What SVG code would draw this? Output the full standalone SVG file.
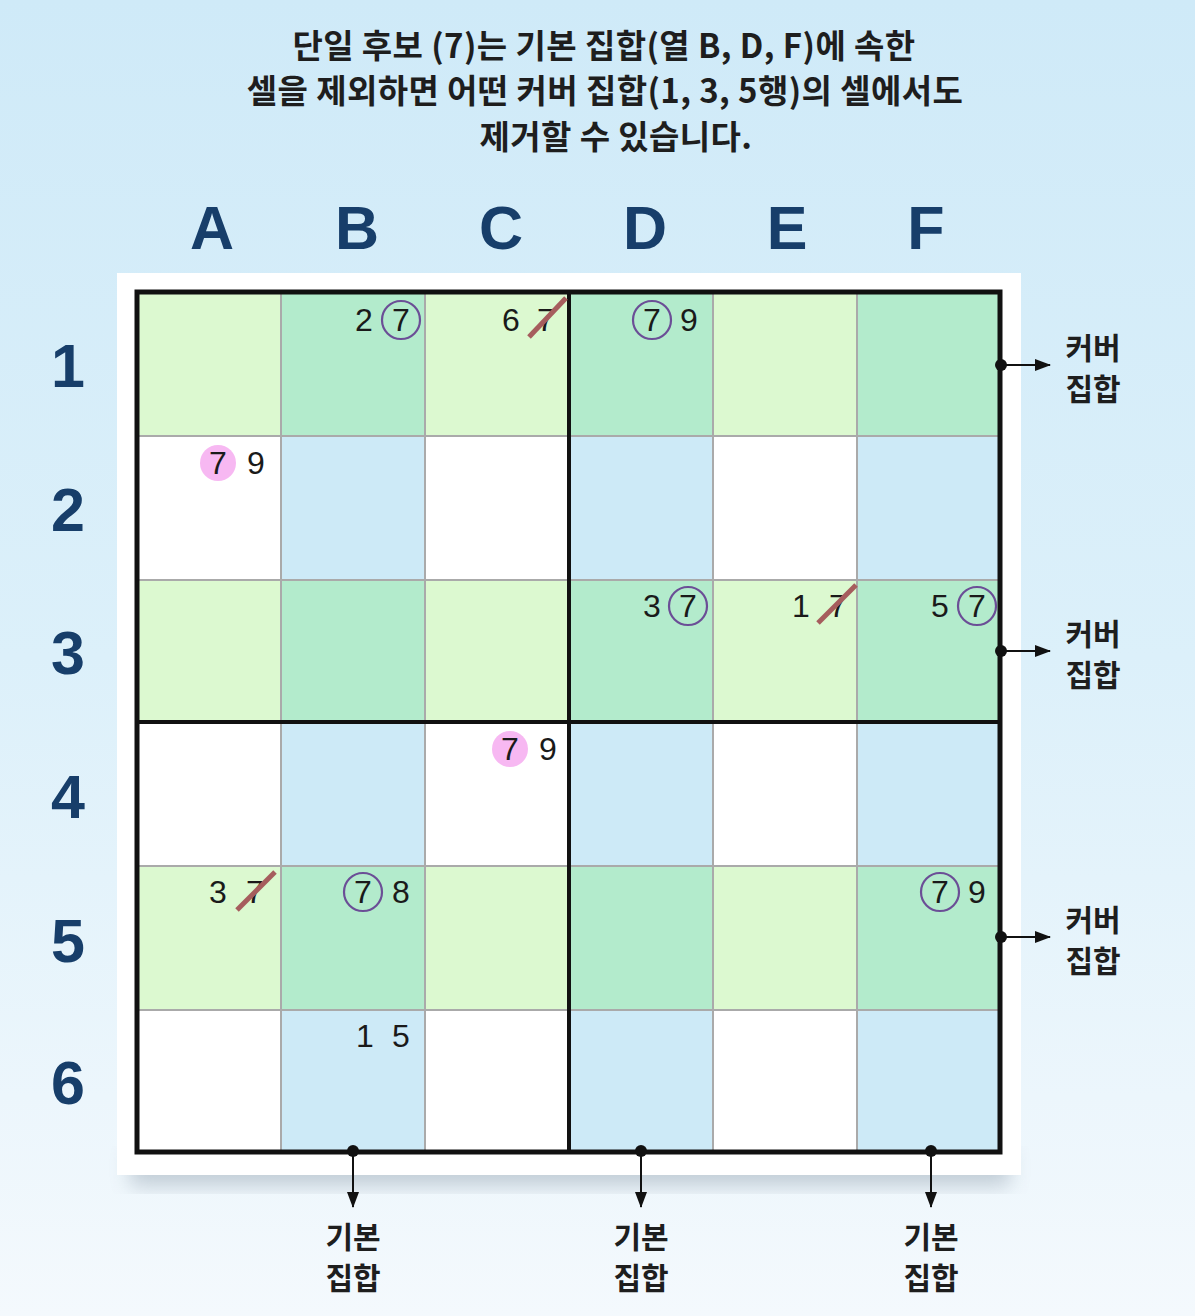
<svg xmlns="http://www.w3.org/2000/svg" width="1195" height="1316" viewBox="0 0 1195 1316">
<defs>
<linearGradient id="bg" x1="0" y1="0" x2="0" y2="1">
<stop offset="0" stop-color="#cfeaf8"/>
<stop offset="0.5" stop-color="#dcf0fa"/>
<stop offset="1" stop-color="#f4f9fd"/>
</linearGradient>
<filter id="sh" x="-10%" y="-10%" width="120%" height="130%">
<feGaussianBlur stdDeviation="10"/>
</filter>
<marker id="ar2" viewBox="0 0 16 12" refX="15" refY="6" markerWidth="16" markerHeight="12" markerUnits="userSpaceOnUse" orient="auto">
<path d="M0,0 L16,6 L0,12 z" fill="#111"/>
</marker>
</defs>
<style>
.title{font-family:"Noto Sans CJK KR","Noto Sans",sans-serif;font-weight:700;font-size:33px;fill:#1e1e1e;text-anchor:middle;letter-spacing:0.4px}
.hdr{font-family:"Liberation Sans",Arial,sans-serif;font-weight:700;font-size:61px;fill:#173e6a;text-anchor:middle}
.cand{font-family:"Liberation Sans",Arial,sans-serif;font-size:32px;fill:#1a1a1a;text-anchor:middle}
.lbl{font-family:"Noto Sans CJK KR","Noto Sans",sans-serif;font-weight:700;font-size:30px;fill:#1e1e1e;text-anchor:middle}
.cg{fill:#dcf9d0}.cm{fill:#b3ebcc}.cw{fill:#ffffff}.cb{fill:#cdeaf7}
.thin{stroke:#aaaaaa;stroke-width:2;fill:none}
.thick{stroke:#111;stroke-width:4;fill:none}
.circ{fill:none;stroke:#6b4e96;stroke-width:2.2}
.pink{fill:#f7b8f2}
.strike{stroke:#a65d5d;stroke-width:5;stroke-linecap:butt}
.conn{stroke:#111;stroke-width:2;fill:none}
.dot{fill:#111}
</style>
<rect width="1195" height="1316" fill="url(#bg)"/>

<g id="title">
<text class="title" x="604" y="58">단일 후보 (7)는 기본 집합(열 B, D, F)에 속한</text>
<text class="title" x="605" y="103">셀을 제외하면 어떤 커버 집합(1, 3, 5행)의 셀에서도</text>
<text class="title" x="616" y="149">제거할 수 있습니다.</text>
</g>

<g id="col-headers">
<text class="hdr" x="212" y="249">A</text>
<text class="hdr" x="357" y="249">B</text>
<text class="hdr" x="501" y="249">C</text>
<text class="hdr" x="645" y="249">D</text>
<text class="hdr" x="787" y="249">E</text>
<text class="hdr" x="926" y="249">F</text>
</g>
<g id="row-headers">
<text class="hdr" x="68" y="387">1</text>
<text class="hdr" x="68" y="531">2</text>
<text class="hdr" x="68" y="674">3</text>
<text class="hdr" x="68" y="818">4</text>
<text class="hdr" x="68" y="962">5</text>
<text class="hdr" x="68" y="1104">6</text>
</g>

<g id="panel">
<rect x="130" y="1150" width="880" height="36" fill="#8a9aa8" opacity="0.45" filter="url(#sh)"/>
<rect x="117" y="273" width="904" height="902" fill="#ffffff"/>
</g>

<g id="cells">
<rect class="cg" x="137" y="292" width="144" height="144"/>
<rect class="cm" x="281" y="292" width="144" height="144"/>
<rect class="cg" x="425" y="292" width="144" height="144"/>
<rect class="cm" x="569" y="292" width="144" height="144"/>
<rect class="cg" x="713" y="292" width="144" height="144"/>
<rect class="cm" x="857" y="292" width="143" height="144"/>

<rect class="cw" x="137" y="436" width="144" height="144"/>
<rect class="cb" x="281" y="436" width="144" height="144"/>
<rect class="cw" x="425" y="436" width="144" height="144"/>
<rect class="cb" x="569" y="436" width="144" height="144"/>
<rect class="cw" x="713" y="436" width="144" height="144"/>
<rect class="cb" x="857" y="436" width="143" height="144"/>

<rect class="cg" x="137" y="580" width="144" height="142"/>
<rect class="cm" x="281" y="580" width="144" height="142"/>
<rect class="cg" x="425" y="580" width="144" height="142"/>
<rect class="cm" x="569" y="580" width="144" height="142"/>
<rect class="cg" x="713" y="580" width="144" height="142"/>
<rect class="cm" x="857" y="580" width="143" height="142"/>

<rect class="cw" x="137" y="722" width="144" height="144"/>
<rect class="cb" x="281" y="722" width="144" height="144"/>
<rect class="cw" x="425" y="722" width="144" height="144"/>
<rect class="cb" x="569" y="722" width="144" height="144"/>
<rect class="cw" x="713" y="722" width="144" height="144"/>
<rect class="cb" x="857" y="722" width="143" height="144"/>

<rect class="cg" x="137" y="866" width="144" height="144"/>
<rect class="cm" x="281" y="866" width="144" height="144"/>
<rect class="cg" x="425" y="866" width="144" height="144"/>
<rect class="cm" x="569" y="866" width="144" height="144"/>
<rect class="cg" x="713" y="866" width="144" height="144"/>
<rect class="cm" x="857" y="866" width="143" height="144"/>

<rect class="cw" x="137" y="1010" width="144" height="142"/>
<rect class="cb" x="281" y="1010" width="144" height="142"/>
<rect class="cw" x="425" y="1010" width="144" height="142"/>
<rect class="cb" x="569" y="1010" width="144" height="142"/>
<rect class="cw" x="713" y="1010" width="144" height="142"/>
<rect class="cb" x="857" y="1010" width="143" height="142"/>
</g>

<g id="gridlines">
<path class="thin" d="M281,292V1152M425,292V1152M713,292V1152M857,292V1152M137,436H1000M137,580H1000M137,866H1000M137,1010H1000"/>
<path class="thick" d="M569,292V1152M137,722H1000"/>
<rect x="137" y="292" width="863" height="860" fill="none" stroke="#111" stroke-width="5"/>
</g>

<g id="candidates">
<g id="cell-B1">
<text class="cand" x="364" y="331">2</text>
<circle class="circ" cx="401" cy="320" r="19"/>
<text class="cand" x="401" y="331">7</text>
</g>
<g id="cell-C1">
<text class="cand" x="511" y="331">6</text>
<text class="cand" x="546" y="331">7</text>
<line class="strike" x1="529" y1="337" x2="566" y2="298"/>
</g>
<g id="cell-D1">
<circle class="circ" cx="652" cy="320" r="19"/>
<text class="cand" x="652" y="331">7</text>
<text class="cand" x="689" y="331">9</text>
</g>
<g id="cell-A2">
<circle class="pink" cx="218" cy="463" r="18"/>
<text class="cand" x="218" y="474">7</text>
<text class="cand" x="256" y="474">9</text>
</g>
<g id="cell-D3">
<text class="cand" x="652" y="617">3</text>
<circle class="circ" cx="688" cy="606" r="19"/>
<text class="cand" x="688" y="617">7</text>
</g>
<g id="cell-E3">
<text class="cand" x="801" y="617">1</text>
<text class="cand" x="838" y="617">7</text>
<line class="strike" x1="818" y1="623" x2="856" y2="585"/>
</g>
<g id="cell-F3">
<text class="cand" x="940" y="617">5</text>
<circle class="circ" cx="977" cy="606" r="19"/>
<text class="cand" x="977" y="617">7</text>
</g>
<g id="cell-C4">
<circle class="pink" cx="510" cy="749" r="18"/>
<text class="cand" x="510" y="760">7</text>
<text class="cand" x="548" y="760">9</text>
</g>
<g id="cell-A5">
<text class="cand" x="218" y="903">3</text>
<text class="cand" x="255" y="903">7</text>
<line class="strike" x1="237" y1="910" x2="275" y2="872"/>
</g>
<g id="cell-B5">
<circle class="circ" cx="363" cy="892" r="19"/>
<text class="cand" x="363" y="903">7</text>
<text class="cand" x="401" y="903">8</text>
</g>
<g id="cell-F5">
<circle class="circ" cx="940" cy="892" r="19"/>
<text class="cand" x="940" y="903">7</text>
<text class="cand" x="977" y="903">9</text>
</g>
<g id="cell-B6">
<text class="cand" x="365" y="1047">1</text>
<text class="cand" x="401" y="1047">5</text>
</g>
</g>

<g id="connectors">
<circle class="dot" cx="1001" cy="365" r="6"/>
<line class="conn" x1="1001" y1="365" x2="1050" y2="365" marker-end="url(#ar2)"/>
<circle class="dot" cx="1001" cy="651" r="6"/>
<line class="conn" x1="1001" y1="651" x2="1050" y2="651" marker-end="url(#ar2)"/>
<circle class="dot" cx="1001" cy="937" r="6"/>
<line class="conn" x1="1001" y1="937" x2="1050" y2="937" marker-end="url(#ar2)"/>
<circle class="dot" cx="353" cy="1151" r="6"/>
<line class="conn" x1="353" y1="1151" x2="353" y2="1207" marker-end="url(#ar2)"/>
<circle class="dot" cx="641" cy="1151" r="6"/>
<line class="conn" x1="641" y1="1151" x2="641" y2="1207" marker-end="url(#ar2)"/>
<circle class="dot" cx="931" cy="1151" r="6"/>
<line class="conn" x1="931" y1="1151" x2="931" y2="1207" marker-end="url(#ar2)"/>
</g>

<g id="label-cover-1"><text class="lbl" x="1093" y="359">커버</text><text class="lbl" x="1093" y="400">집합</text></g>
<g id="label-cover-3"><text class="lbl" x="1093" y="645">커버</text><text class="lbl" x="1093" y="686">집합</text></g>
<g id="label-cover-5"><text class="lbl" x="1093" y="931">커버</text><text class="lbl" x="1093" y="972">집합</text></g>
<g id="label-base-B"><text class="lbl" x="353" y="1248">기본</text><text class="lbl" x="353" y="1289">집합</text></g>
<g id="label-base-D"><text class="lbl" x="641" y="1248">기본</text><text class="lbl" x="641" y="1289">집합</text></g>
<g id="label-base-F"><text class="lbl" x="931" y="1248">기본</text><text class="lbl" x="931" y="1289">집합</text></g>
</svg>
